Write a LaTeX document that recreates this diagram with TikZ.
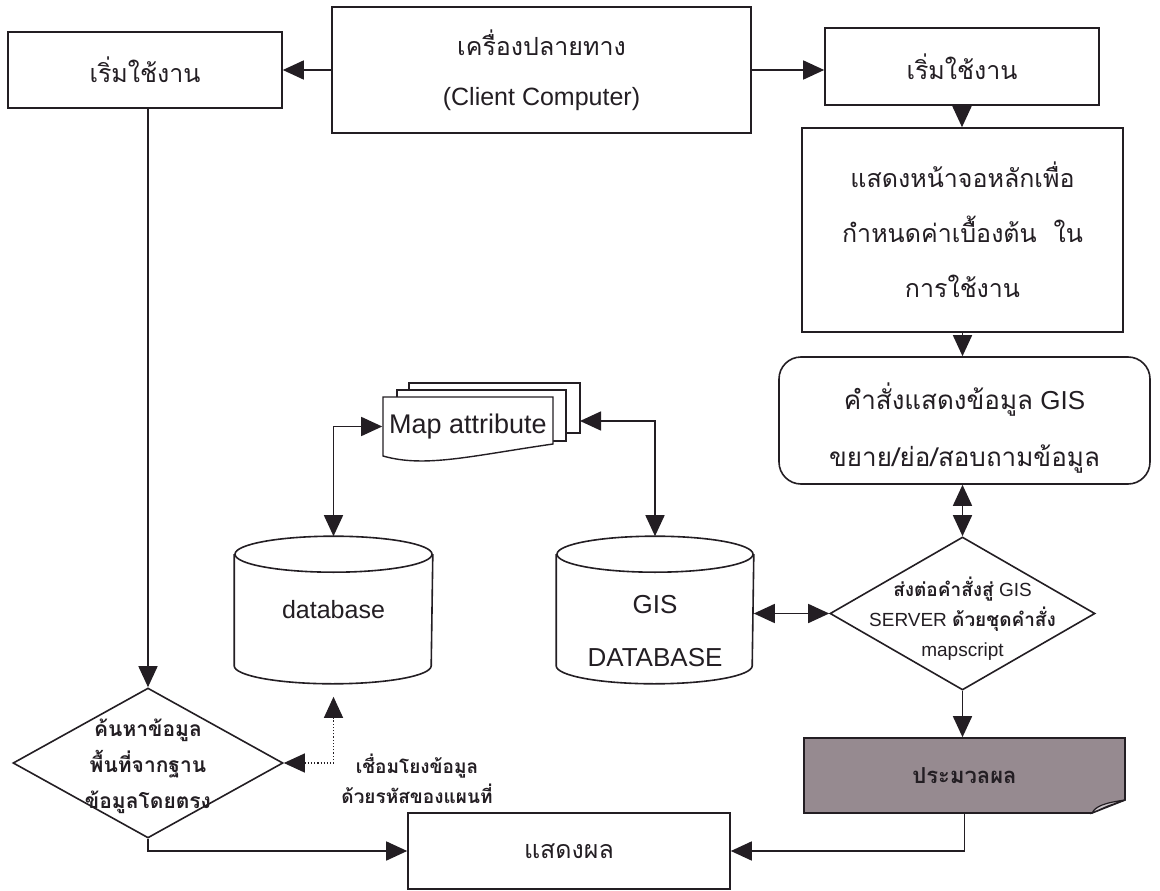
\documentclass[tikz,border=0pt]{standalone}
\usepackage{fontspec}
\setmainfont{Liberation Sans}
\newfontfamily\thai[Script=Thai]{Loma}
\usetikzlibrary{arrows.meta,shapes.geometric,calc}
\definecolor{ink}{RGB}{35,30,35}
\definecolor{procgray}{RGB}{150,138,144}
\definecolor{foldgray}{RGB}{205,198,202}
\begin{document}
\begin{tikzpicture}[x=1pt,y=-1pt,
  line width=1.6pt, color=ink,
  tip/.tip={Triangle[length=21pt,width=19pt]},
  arr/.style={-tip},
  dbl/.style={tip-tip},
  box/.style={draw, rectangle, inner sep=0pt, align=center},
  thaireg/.style={font=\thai\fontsize{25}{30}\selectfont},
  thaibold/.style={font=\thai\bfseries\fontsize{21}{36}\selectfont}
]
\useasboundingbox[fill=white] (0,0) rectangle (1160,891);

% top row
\node[box, thaireg, minimum width=274, minimum height=76] (startL) at (145,70) {เริ่มใช้งาน};
\node[box, font=\fontsize{25}{50}\selectfont, minimum width=419, minimum height=126] (client) at (541.5,70) {{\thai เครื่องปลายทาง}\\(Client Computer)};
\node[box, thaireg, minimum width=274, minimum height=77] (startR) at (962,66.5) {เริ่มใช้งาน};

% right column
\node[box, font=\thai\fontsize{25}{55}\selectfont, minimum width=321, minimum height=204] (screen) at (962.5,230) {แสดงหน้าจอหลักเพื่อ\\กำหนดค่าเบื้องต้น\ \ ใน\\การใช้งาน};
\node[box, rounded corners=22pt, font=\fontsize{26}{57}\selectfont, minimum width=371, minimum height=127, text height=98pt] (cmd) at (964.5,420.5) {{\thai คำสั่งแสดงข้อมูล} GIS\\{\thai ขยาย/ย่อ/สอบถามข้อมูล}};
\node[diamond, draw, inner sep=0pt, minimum width=265, minimum height=153] (send) at (962.5,613.5) {};
\node[align=center, font=\fontsize{19}{30}\selectfont] (sendtext) at (962.5,619) {{\thai\bfseries ส่งต่อคำสั่งสู่} GIS\\SERVER {\thai\bfseries ด้วยชุดคำสั่ง}\\mapscript};

% processing box with folded corner
\filldraw[fill=procgray] (804,738) -- (1125,738) -- (1125,800) -- (1092,813) -- (804,813) -- cycle;
\filldraw[fill=foldgray, line width=1.2pt] (1092,813) .. controls (1096,806) and (1104,803) .. (1125,800) -- (1108,806) -- cycle;
\node[inner sep=0pt, minimum width=321, minimum height=75, font=\thai\bfseries\fontsize{22}{30}\selectfont] (proc) at (964.5,775.5) {ประมวลผล};

% bottom result box
\node[box, thaireg, minimum width=322, minimum height=76] (show) at (569,851) {แสดงผล};

% left search diamond
\node[diamond, draw, inner sep=0pt, minimum width=270, minimum height=150] (search) at (148,763) {};
\node[align=center, thaibold] (searchtext) at (148,766) {ค้นหาข้อมูล\\พื้นที่จากฐาน\\ข้อมูลโดยตรง};

% databases
\node[inner sep=0pt, minimum width=197, minimum height=146, font=\fontsize{25}{30}\selectfont] (db) at (333.5,610) {database};
\draw ([yshift=-18pt]db.north) ellipse[x radius=98.5pt, y radius=18pt];
\draw ([yshift=-18pt]db.north west) -- ([yshift=18pt]db.south west)
  arc[start angle=180, end angle=360, x radius=98.5pt, y radius=18pt] -- ([yshift=-18pt]db.north east);

\node[inner sep=0pt, minimum width=196, minimum height=146] (gisdb) at (655,610) {};
\draw ([yshift=-18pt]gisdb.north) ellipse[x radius=98pt, y radius=18pt];
\draw ([yshift=-18pt]gisdb.north west) -- ([yshift=18pt]gisdb.south west)
  arc[start angle=180, end angle=360, x radius=98pt, y radius=18pt] -- ([yshift=-18pt]gisdb.north east);
\node[align=center, font=\fontsize{26}{53}\selectfont] (gistext) at (655,631) {GIS\\DATABASE};

% map attribute (multi document)
\filldraw[fill=white, line width=1.4pt] (409,383) rectangle (580,433);
\filldraw[fill=white, line width=1.4pt] (397,390) rectangle (566,441);
\filldraw[fill=white, line width=1.4pt] (383,397) -- (553,397) -- (553,444)
  .. controls (470,456) and (425,468) .. (383,456) -- cycle;
\node[inner sep=0pt, minimum width=170, minimum height=59, font=\fontsize{27}{30}\selectfont] (mapattr) at (468,426.5) {Map attribute};
\coordinate (mapback) at (580,421);

% link label
\node[align=center, font=\thai\bfseries\fontsize{19}{30}\selectfont] (linklabel) at (417,779) {เชื่อมโยงข้อมูล\\ด้วยรหัสของแผนที่};

% connectors
\draw[arr] (client) -- (startL);
\draw[arr] (client.east) -- (client.east -| startR.west);
\draw[arr] (startR.south) -- (startR.south |- screen.north);
\draw[arr] (screen.south) -- (screen.south |- cmd.north);
\draw[dbl] (send.north |- cmd.south) -- (send.north);
\draw[dbl] (send.west -| gisdb.east) -- (send.west);
\draw[arr] (send.south) -- (send.south |- proc.north);
\draw[arr] (proc.south) |- (show.east);
\draw[arr] (startL.south -| search.north) -- (search.north);
\draw[arr] (search.south) |- (show.west);
\draw[dbl] (db.north) |- (mapattr.west);
\draw[dbl] (gisdb.north) |- (mapback);
\draw[dbl, dotted, line width=1.2pt, shorten >=13pt] (search.east) -| (db.south);
\end{tikzpicture}
\end{document}
